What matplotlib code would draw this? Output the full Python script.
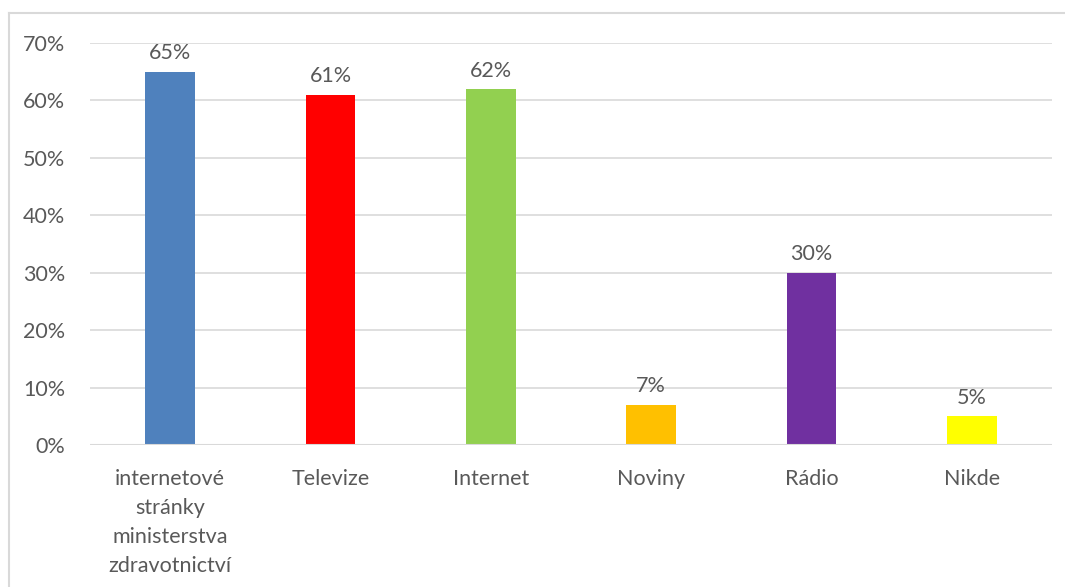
import matplotlib.pyplot as plt
from matplotlib.lines import Line2D
from matplotlib.ticker import FuncFormatter

categories = ["internetové\nstránky\nministerstva\nzdravotnictví",
              "Televize", "Internet", "Noviny", "Rádio", "Nikde"]
values = [65, 61, 62, 7, 30, 5]
colors = ["#4f81bd", "#ff0000", "#92d050", "#ffc000", "#7030a0", "#ffff00"]

W, H = 1065, 587
fig = plt.figure(figsize=(W / 100, H / 100), dpi=100)
plt.rcParams['font.family'] = ['Lato', 'DejaVu Sans']

text_color = "#595959"
grid_color = "#d9d9d9"
fs = 15.5

ax = fig.add_axes([90 / W, 1 - 445 / H, (1052 - 90) / W, (445 - 43) / H])
x = range(len(categories))
bars = ax.bar(x, values, width=0.31, color=colors, zorder=3)

ax.set_ylim(0, 70)
ax.set_xlim(-0.5, len(categories) - 0.5)
ax.set_yticks(range(0, 71, 10))
ax.yaxis.set_major_formatter(FuncFormatter(lambda v, p: f"{int(v)}%"))
ax.set_xticks(list(x))
ax.set_xticklabels(categories, linespacing=1.56)

ax.grid(axis='y', color=grid_color, linewidth=1.2, zorder=0)
for s in ax.spines.values():
    s.set_visible(False)
ax.axhline(0, color=grid_color, linewidth=1.5, zorder=4)

ax.tick_params(axis='both', length=0, labelsize=fs, colors=text_color)
ax.tick_params(axis='y', pad=18)
ax.tick_params(axis='x', pad=17.5)
for lbl in ax.get_xticklabels():
    lbl.set_verticalalignment('top')

for b, v in zip(bars, values):
    ax.annotate(f"{v}%", (b.get_x() + b.get_width() / 2, v),
                xytext=(0, 6), textcoords='offset points',
                ha='center', va='bottom', fontsize=fs, color=text_color)

# chart frame (left and top edges)
fig.add_artist(Line2D([8.5 / W, 8.5 / W], [0, 1 - 13 / H],
                      transform=fig.transFigure, color=grid_color, linewidth=1.5))
fig.add_artist(Line2D([8.5 / W, 1], [1 - 13 / H, 1 - 13 / H],
                      transform=fig.transFigure, color=grid_color, linewidth=1.5))

fig.savefig("out.png", dpi=100, facecolor="white")
